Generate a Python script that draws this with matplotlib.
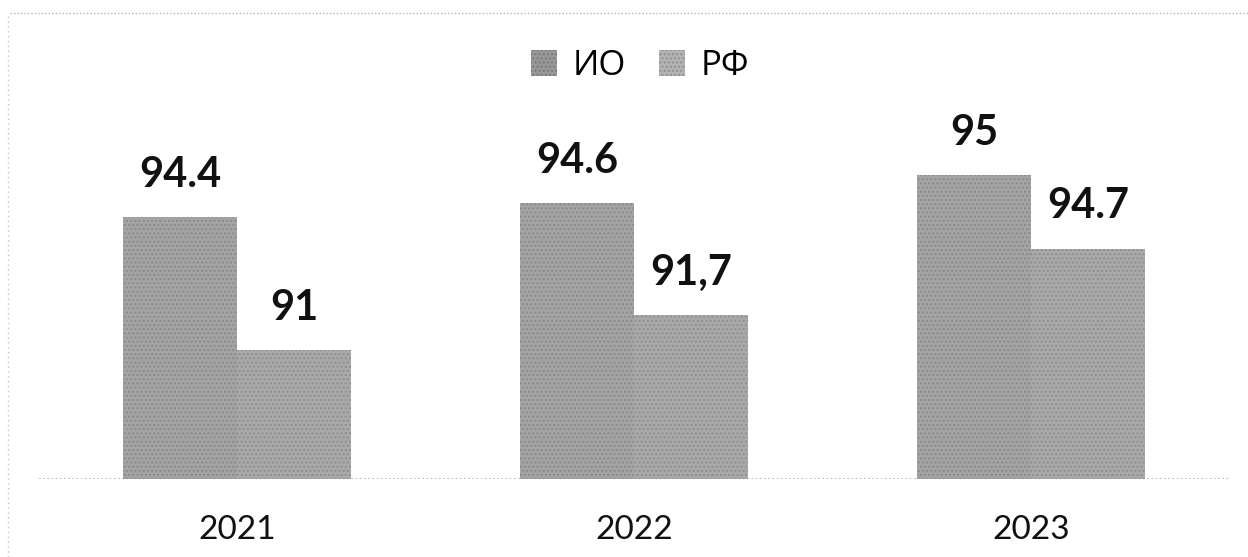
import matplotlib
matplotlib.use("Agg")
import matplotlib.pyplot as plt
from matplotlib.lines import Line2D
from matplotlib.patches import Patch
import numpy as np

# ---- data ----
years = ["2021", "2022", "2023"]
series_names = ["ИО", "РФ"]
io_values = [94.4, 94.6, 95.0]
rf_values = [91.0, 91.7, 94.7]
io_labels = ["94.4", "94.6", "95"]
rf_labels = ["91", "91,7", "94.7"]
# bar heights as drawn in the source (the РФ bars are not drawn to the label scale)
io_heights = [94.4, 94.6, 95.0]
rf_heights = [92.5, 93.0, 93.95]

W, H = 1248, 557
fig = plt.figure(figsize=(W / 100, H / 100), dpi=100)
fig.patch.set_facecolor("white")

ax = fig.add_axes([38.5 / W, (H - 479) / H, 1191 / W, 379 / H])
ax.set_xlim(-0.5, 2.5)
ax.set_ylim(90.66, 90.66 + 379 / 70)

x = np.arange(len(years))
bw = 0.287
c_io = "#a4a4a4"
c_rf = "#a9a9a9"
b1 = ax.bar(x - bw / 2, io_heights, bw, bottom=0, color=c_io, edgecolor="#8a8a8a",
            linewidth=0, hatch="....")
b2 = ax.bar(x + bw / 2, rf_heights, bw, bottom=0, color=c_rf, edgecolor="#8f8f8f",
            linewidth=0, hatch="....")

num_font = ["Lato", "Open Sans", "DejaVu Sans"]
for rect, lab in zip(b1, io_labels):
    ax.annotate(lab, (rect.get_x() + rect.get_width() / 2, rect.get_height()),
                xytext=(0, 17), textcoords="offset points", ha="center", va="bottom",
                fontsize=30, fontweight="bold", family=num_font, color="#111111")
for rect, lab in zip(b2, rf_labels):
    ax.annotate(lab, (rect.get_x() + rect.get_width() / 2, rect.get_height()),
                xytext=(0, 17), textcoords="offset points", ha="center", va="bottom",
                fontsize=30, fontweight="bold", family=num_font, color="#111111")

# baseline
ax.axhline(ax.get_ylim()[0], color="#b0b0b0", lw=1.2, ls=(0, (1, 1.5)), zorder=0.5)

for s in ax.spines.values():
    s.set_visible(False)
ax.set_yticks([])
ax.set_xticks(x)
ax.set_xticklabels(years, fontsize=24, family=num_font, color="#111111")
ax.tick_params(axis="x", length=0, pad=26)

# legend
handles = [Patch(facecolor="#989898", edgecolor="#7a7a7a", linewidth=0, hatch="...."),
           Patch(facecolor="#b3b3b3", edgecolor="#909090", linewidth=0, hatch="....")]
leg = fig.legend(handles, series_names, loc="center", bbox_to_anchor=(640.5 / W, 1 - 66 / H),
                 ncol=2, frameon=False, prop={"family": ["Open Sans", "DejaVu Sans"], "size": 25},
                 handlelength=0.75, handleheight=0.75, handletextpad=0.45, columnspacing=0.95,
                 borderpad=0)

# dotted frame lines (top and left)
fig.add_artist(Line2D([10 / W, 1.0], [1 - 13 / H, 1 - 13 / H], transform=fig.transFigure,
                      color="#b5b5b5", lw=1.0, ls=(0, (1, 1.5))))
fig.add_artist(Line2D([8 / W, 8 / W], [0, 1 - 13 / H], transform=fig.transFigure,
                      color="#c5c5c5", lw=1.0, ls=(0, (1, 2.5))))

fig.savefig("out.png", dpi=100, facecolor="white")
